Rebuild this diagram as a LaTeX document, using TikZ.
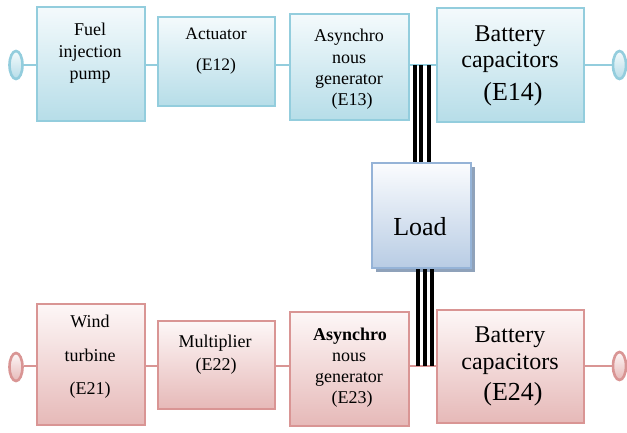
\documentclass[tikz,border=0pt]{standalone}
\usepackage{fontspec}
\setmainfont{Liberation Serif}
\usetikzlibrary{shapes.geometric,shadows}
\definecolor{cyb}{HTML}{93CDDD}
\definecolor{cyf}{HTML}{B6DDE8}
\definecolor{cyt}{HTML}{F4FAFC}
\definecolor{pkb}{HTML}{D99594}
\definecolor{pkf}{HTML}{E6B9B8}
\definecolor{pkt}{HTML}{FDF7F7}
\definecolor{ldb}{HTML}{95B3D7}
\definecolor{ldf}{HTML}{B8CCE4}
\definecolor{ldt}{HTML}{FBFCFE}
\definecolor{lds}{HTML}{8FA2BA}
\tikzset{
  topbox/.style={draw=cyb, line width=2.6pt, top color=cyt, bottom color=cyf, inner sep=0pt},
  botbox/.style={draw=pkb, line width=2.6pt, top color=pkt, bottom color=pkf, inner sep=0pt},
  topend/.style={ellipse, draw=cyb, line width=2.6pt, top color=cyt, bottom color=cyf, minimum width=13pt, minimum height=28pt, inner sep=0pt},
  botend/.style={ellipse, draw=pkb, line width=2.6pt, top color=pkt, bottom color=pkf, minimum width=13pt, minimum height=28pt, inner sep=0pt},
  loadbox/.style={draw=ldb, line width=2.6pt, top color=ldt, bottom color=ldf, inner sep=0pt,
    drop shadow={shadow xshift=4pt, shadow yshift=-4pt, fill=lds, opacity=1}},
  topline/.style={draw=cyb, line width=2.2pt},
  botline/.style={draw=pkb, line width=2.2pt},
  wire/.style={draw=black, line width=3.5pt},
  txt/.style={anchor=base, inner sep=0pt, font=\fontsize{18}{21}\selectfont},
  bigtxt/.style={anchor=base, inner sep=0pt, font=\fontsize{24}{28}\selectfont},
  hugetxt/.style={anchor=base, inner sep=0pt, font=\fontsize{26}{30}\selectfont},
}
\begin{document}
\begin{tikzpicture}[x=1pt,y=-1pt]
\useasboundingbox (0,0) rectangle (627,432);
% rows
\coordinate (r1) at (0,65);
\coordinate (r2) at (0,366);
% top boxes
\node[topend] (e1l) at (16,65) {};
\node[topend] (e1r) at (619.5,65) {};
\node[topbox, minimum width=108pt, minimum height=114pt] (b11) at (91,64) {};
\node[topbox, minimum width=117pt, minimum height=89pt] (b12) at (216.5,61.5) {};
\node[topbox, minimum width=119pt, minimum height=106pt] (b13) at (349.5,67) {};
\node[topbox, minimum width=147pt, minimum height=114pt] (b14) at (510.5,65) {};
% bottom boxes
\node[botend] (e2l) at (16,367) {};
\node[botend] (e2r) at (619.5,366) {};
\node[botbox, minimum width=108pt, minimum height=121pt] (b21) at (91,364.5) {};
\node[botbox, minimum width=117pt, minimum height=88pt] (b22) at (216.5,365) {};
\node[botbox, minimum width=119pt, minimum height=114pt] (b23) at (349.5,369) {};
\node[botbox, minimum width=147pt, minimum height=113pt] (b24) at (510.5,366.5) {};
% load
\node[loadbox, minimum width=99pt, minimum height=105pt] (ld) at (421.5,215.5) {};
% connectors top
\draw[topline] (e1l.east |- r1) -- (b11.west |- r1);
\draw[topline] (b11.east |- r1) -- (b12.west |- r1);
\draw[topline] (b12.east |- r1) -- (b13.west |- r1);
\draw[topline] (b13.east |- r1) -- (b14.west |- r1);
\draw[topline] (b14.east |- r1) -- (e1r.west |- r1);
% connectors bottom
\draw[botline] (e2l.east |- r2) -- (b21.west |- r2);
\draw[botline] (b21.east |- r2) -- (b22.west |- r2);
\draw[botline] (b22.east |- r2) -- (b23.west |- r2);
\draw[botline] (b23.east |- r2) -- (b24.west |- r2);
\draw[botline] (b24.east |- r2) -- (e2r.west |- r2);
% wires
\draw[wire] ([xshift=-6.5pt]ld.north |- r1) -- ([xshift=-6.5pt]ld.north);
\draw[wire] ([xshift=-0.5pt]ld.north |- r1) -- ([xshift=-0.5pt]ld.north);
\draw[wire] ([xshift=7.5pt]ld.north |- r1) -- ([xshift=7.5pt]ld.north);
\draw[wire] ([xshift=-3.5pt]ld.south) -- ([xshift=-3.5pt]ld.south |- r2);
\draw[wire] ([xshift=3.5pt]ld.south) -- ([xshift=3.5pt]ld.south |- r2);
\draw[wire] ([xshift=10.5pt]ld.south) -- ([xshift=10.5pt]ld.south |- r2);
% texts top
\node[txt] (t11a) at (90,35) {Fuel};
\node[txt] (t11b) at (90,57) {injection};
\node[txt] (t11c) at (90,79) {pump};
\node[txt, font=\fontsize{17.5}{21}\selectfont] (t12a) at (216,39) {Actuator};
\node[txt, font=\fontsize{17.5}{21}\selectfont] (t12b) at (216,70) {(E12)};
\node[txt] (t13a) at (349,41) {Asynchro};
\node[txt] (t13b) at (349,63) {nous};
\node[txt] (t13c) at (349,84) {generator};
\node[txt] (t13d) at (352,105) {(E13)};
\node[bigtxt] (t14a) at (510,41) {Battery};
\node[bigtxt] (t14b) at (510,67) {capacitors};
\node[hugetxt] (t14c) at (513,100) {(E14)};
\node[hugetxt] (tld) at (420,235) {Load};
% texts bottom
\node[txt] (t21a) at (90,327) {Wind};
\node[txt] (t21b) at (90,361) {turbine};
\node[txt] (t21c) at (90,394) {(E21)};
\node[txt] (t22a) at (215,347) {Multiplier};
\node[txt] (t22b) at (216,370) {(E22)};
\node[txt, font=\fontsize{18}{21}\selectfont\bfseries] (t23a) at (350,340) {Asynchro};
\node[txt] (t23b) at (349,361) {nous};
\node[txt] (t23c) at (349,382) {generator};
\node[txt] (t23d) at (352,403) {(E23)};
\node[bigtxt] (t24a) at (510,342) {Battery};
\node[bigtxt] (t24b) at (510,369) {capacitors};
\node[hugetxt] (t24c) at (513,400) {(E24)};
\end{tikzpicture}
\end{document}
